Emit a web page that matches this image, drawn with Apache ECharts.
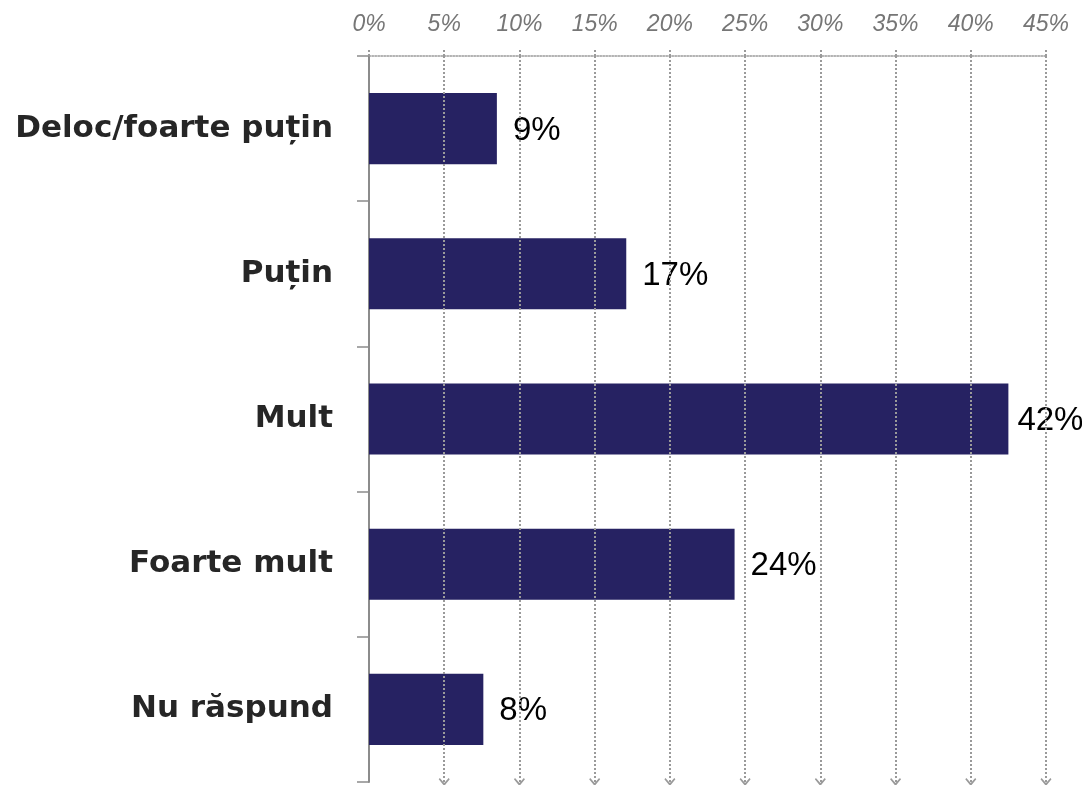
<!DOCTYPE html>
<html>
<head>
<meta charset="utf-8">
<script src="https://cdn.jsdelivr.net/npm/echarts@6/dist/echarts.min.js"></script>
<style>html,body{margin:0;padding:0;background:#fff;}#c{width:1082px;height:785px;}</style>
</head>
<body>
<div id="c"></div>
<script>
var categories = ['Deloc/foarte puțin', 'Puțin', 'Mult', 'Foarte mult', 'Nu răspund'];
var values = [8.5, 17.1, 42.5, 24.3, 7.6];
var valueLabels = ['9%', '17%', '42%', '24%', '8%'];
var gridTicks = [5, 10, 15, 20, 25, 30, 35, 40, 45];

var chart = echarts.init(document.getElementById('c'));
var arrow = 'path://M5,0L10,6L9,7L5,2.6L1,7L0,6Z';
chart.setOption({
  animation: false,
  grid: { left: 369, right: 36, top: 56, bottom: 3, containLabel: false },
  xAxis: {
    type: 'value', position: 'top', min: 0, max: 45, interval: 5,
    axisLine: { show: true, lineStyle: { color: '#9a9a9a', type: 'dotted', width: 1.5 } },
    axisTick: { show: true, length: 8, lineStyle: { color: '#9a9a9a', type: 'dotted', width: 2 } },
    splitLine: { show: false },
    axisLabel: { formatter: '{value}%', fontStyle: 'italic', fontSize: 23, color: '#767676',
      fontFamily: 'Liberation Sans', margin: 20 }
  },
  yAxis: {
    type: 'category', data: categories, inverse: true,
    axisLine: { show: true, lineStyle: { color: '#8c8c8c', width: 2 } },
    axisTick: { show: true, length: 12, lineStyle: { color: '#8c8c8c', width: 1.5 } },
    axisLabel: { fontSize: 31, fontWeight: 'bold', color: '#262626', fontFamily: 'DejaVu Sans', margin: 36 }
  },
  series: [{
    type: 'line', data: [], z: 1, silent: true,
    markLine: {
      silent: true, animation: false,
      symbol: ['none', arrow], symbolSize: [11, 8],
      label: { show: false },
      lineStyle: { color: '#9a9a9a', type: 'dotted', width: 2 },
      emphasis: { disabled: true },
      data: gridTicks.map(function (t) { return { xAxis: t }; })
    }
  }, {
    type: 'bar', barWidth: '49%', z: 3,
    data: values.map(function (v) {
      return v > 40 ? { value: v, label: { distance: 9 } } : v;
    }),
    itemStyle: { color: '#262262' },
    label: { show: true, position: 'right', distance: 16, fontSize: 33, color: '#000',
      fontFamily: 'Liberation Sans', offset: [0, 2],
      formatter: function (p) { return valueLabels[p.dataIndex]; } }
  }]
});
</script>
</body>
</html>
